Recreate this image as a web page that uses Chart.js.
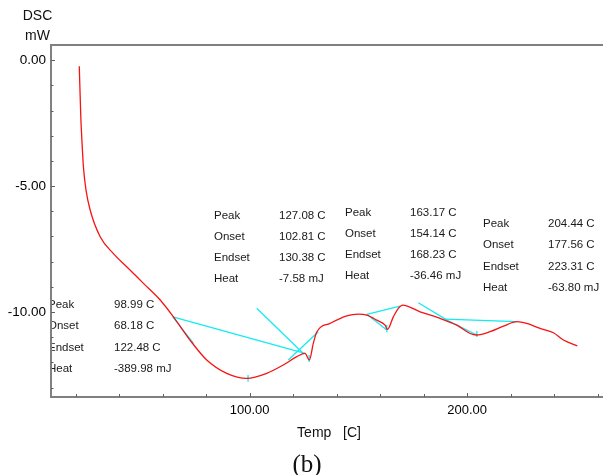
<!DOCTYPE html>
<html>
<head>
<meta charset="utf-8">
<script src="https://cdn.jsdelivr.net/npm/chart.js@4.4.1/dist/chart.umd.min.js"></script>
<style>
  html, body { margin: 0; padding: 0; background: #fff; }
  #wrap { width: 603px; height: 475px; position: relative; }
</style>
</head>
<body>
<div id="wrap"><canvas id="dsc-chart"></canvas></div>
<script>
// DSC trace (temperature in C, heat flow in mW)
const temps = [21.7, 22.4, 22.9, 23.6, 24.8, 26.7, 31.3, 37.4, 43.5, 51.2, 58.9, 65.0, 72.6,
  80.3, 89.5, 98.7, 107.9, 115.5, 121.7, 125.5, 127.5, 129.3, 130.9, 137.0, 144.7, 150.0, 153.9,
  158.5, 162.3, 163.4, 166.1, 168.4, 170.4, 178.4, 187.6, 195.3, 201.4, 204.4, 210.6, 216.7,
  222.9, 227.4, 233.6, 239.7, 244.3, 250.7];
const dsc = [-0.24, -2.25, -3.17, -4.23, -5.16, -5.95, -7.01, -7.68, -8.20, -8.86, -9.52, -10.19, -11.11,
  -11.90, -12.43, -12.63, -12.43, -12.10, -11.77, -11.64, -11.90, -11.24, -10.79, -10.45, -10.15, -10.08, -10.12,
  -10.32, -10.52, -10.69, -10.19, -9.85, -9.72, -9.99, -10.25, -10.52, -10.85, -10.91, -10.78, -10.56,
  -10.38, -10.45, -10.65, -10.82, -11.11, -11.34];

// tangents, baselines and peak marks [t1, v1, t2, v2]
const cyanSegments = [
  [64.7, -10.19, 125.5, -11.64],
  [64.7, -10.19, 74.2, -11.24],
  [103.3, -9.85, 124.7, -11.64],
  [117.8, -11.90, 131.6, -10.78],
  [153.9, -10.09, 169.2, -9.76],
  [153.9, -10.09, 163.1, -10.71],
  [177.6, -9.63, 190.8, -10.32],
  [189.9, -10.28, 222.8, -10.38],
  [190.7, -10.32, 204.5, -10.91],
  [99.3, -12.50, 99.3, -12.76],
  [127.4, -11.70, 127.4, -11.98],
  [163.1, -10.50, 163.1, -10.80],
  [204.5, -10.75, 204.5, -10.99]
];

// analysis results
const peakTemp = [98.99, 127.08, 163.17, 204.44];
const onsetTemp = [68.18, 102.81, 154.14, 177.56];
const endsetTemp = [122.48, 130.38, 168.23, 223.31];
const heat = [-389.98, -7.58, -36.46, -63.80];

const xTicks = [100, 200];
const yTicks = [0, -5, -10];

const FONT = 'Liberation Sans, Arial, sans-serif';

// where each result block sits: label x, value x, first row y, row step
const blockPos = [
  [48, 114, 304.5, 21.6],
  [214, 279, 216, 21.1],
  [345, 410, 212.5, 21.0],
  [483, 548, 224, 21.2]
];

const decorations = {
  id: 'decorations',
  afterDraw(chart) {
    const { ctx, chartArea: a, scales: { x, y } } = chart;
    ctx.save();

    // top frame line
    ctx.strokeStyle = '#808080';
    ctx.lineWidth = 2;
    ctx.beginPath();
    ctx.moveTo(a.left - 1, a.top);
    ctx.lineTo(a.right, a.top);
    ctx.stroke();

    // inward tick marks
    ctx.lineWidth = 1;
    ctx.strokeStyle = '#606060';
    ctx.beginPath();
    for (let v = -13; v <= 0; v++) {
      const py = Math.round(y.getPixelForValue(v)) + 0.5;
      const len = v % 5 === 0 ? 4 : 2.5;
      ctx.moveTo(a.left, py);
      ctx.lineTo(a.left + len, py);
    }
    for (let t = 20; t <= 260; t += 20) {
      const px = Math.round(x.getPixelForValue(t)) + 0.5;
      const len = t % 100 === 0 ? 4 : 3;
      ctx.moveTo(px, a.bottom);
      ctx.lineTo(px, a.bottom - len);
    }
    ctx.stroke();

    // result blocks
    ctx.beginPath();
    ctx.rect(a.left + 1, a.top, a.right - a.left, a.bottom - a.top);
    ctx.clip();
    ctx.fillStyle = '#1a1a1a';
    ctx.font = '11.5px ' + FONT;
    ctx.textBaseline = 'middle';
    const names = ['Peak', 'Onset', 'Endset', 'Heat'];
    blockPos.forEach((p, i) => {
      const vals = [peakTemp[i].toFixed(2) + ' C', onsetTemp[i].toFixed(2) + ' C',
        endsetTemp[i].toFixed(2) + ' C', heat[i].toFixed(2) + ' mJ'];
      names.forEach((n, r) => {
        ctx.fillText(n, p[0], p[2] + r * p[3]);
        ctx.fillText(vals[r], p[1], p[2] + r * p[3]);
      });
    });
    ctx.restore();

    // axis titles and caption
    ctx.save();
    ctx.fillStyle = '#111';
    ctx.font = '14px ' + FONT;
    ctx.textAlign = 'center';
    ctx.textBaseline = 'middle';
    ctx.fillText('DSC', 37.5, 16.5);
    ctx.fillText('mW', 37.5, 36.5);
    ctx.fillText('Temp   [C]', 329, 433);
    ctx.font = '25px Liberation Serif, Times New Roman, serif';
    ctx.textBaseline = 'alphabetic';
    ctx.fillText('(b)', 307, 472);
    ctx.restore();
  }
};

const datasets = [{
  data: temps.map((t, i) => ({ x: t, y: dsc[i] })),
  borderColor: 'rgb(245, 20, 20)',
  borderWidth: 1.3,
  pointRadius: 0,
  cubicInterpolationMode: 'monotone'
}];
cyanSegments.forEach(s => {
  datasets.push({
    data: [{ x: s[0], y: s[1] }, { x: s[2], y: s[3] }],
    borderColor: 'rgb(20, 235, 240)',
    borderWidth: 1.3,
    pointRadius: 0
  });
});

new Chart(document.getElementById('dsc-chart'), {
  type: 'line',
  data: { datasets },
  options: {
    responsive: true,
    maintainAspectRatio: false,
    animation: false,
    devicePixelRatio: 1,
    layout: { padding: { top: 45, left: 0, right: 0, bottom: 0 } },
    plugins: { legend: { display: false }, tooltip: { enabled: false } },
    scales: {
      x: {
        type: 'linear',
        min: 8.7,
        max: 262.5,
        afterBuildTicks: s => { s.ticks = xTicks.map(v => ({ value: v })); },
        afterFit: s => { s.height = 78; },
        grid: { display: false, drawTicks: false },
        border: { display: true, color: '#808080', width: 2 },
        ticks: {
          padding: 6,
          color: '#000',
          font: { family: FONT, size: 13 },
          callback: v => v.toFixed(2)
        }
      },
      y: {
        type: 'linear',
        min: -13.37,
        max: 0.6,
        afterBuildTicks: s => { s.ticks = yTicks.map(v => ({ value: v })); },
        afterFit: s => { s.width = 51; },
        grid: { display: false, drawTicks: false },
        border: { display: true, color: '#808080', width: 2 },
        ticks: {
          padding: 5,
          color: '#000',
          font: { family: FONT, size: 13.5 },
          callback: v => v.toFixed(2)
        }
      }
    }
  },
  plugins: [decorations]
});
</script>
</body>
</html>
